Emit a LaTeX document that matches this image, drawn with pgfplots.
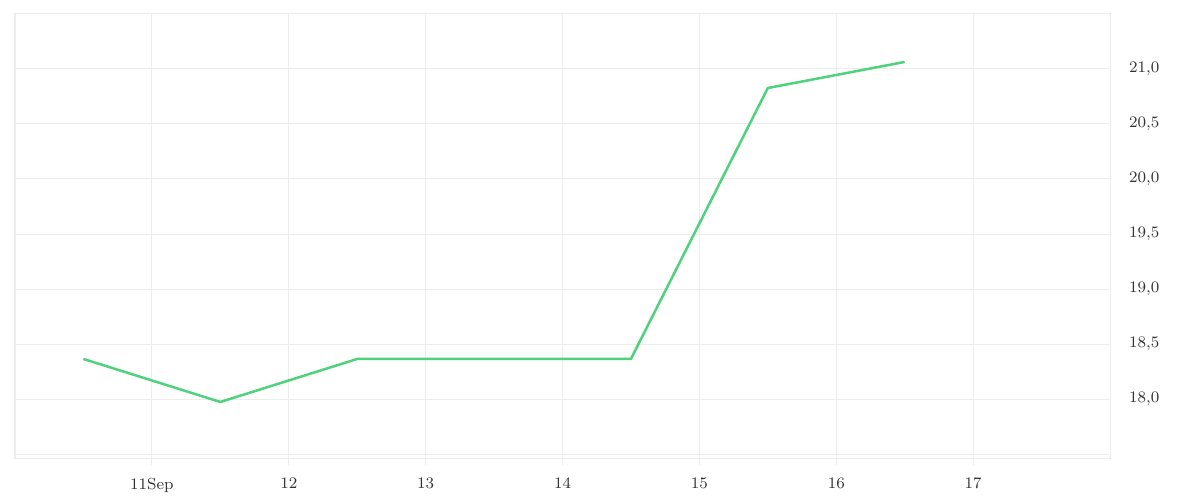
\documentclass[border=0pt]{standalone}
\usepackage{pgfplots}
\pgfplotsset{compat=1.18}
\definecolor{linegreen}{HTML}{4ED27C}
\definecolor{gridgray}{HTML}{EDEDED}
\definecolor{labelgray}{HTML}{333333}
\begin{document}
\begin{tikzpicture}
  \useasboundingbox (-7.5pt,-21pt) rectangle (592.5pt,229pt);
  \begin{axis}[
    at={(0pt,0pt)}, anchor=south west,
    scale only axis, width=547.5pt, height=222.5pt,
    xmin=10, xmax=18, ymin=17.4636, ymax=21.509,
    axis line style={gridgray, line width=0.5pt},
    xtick={11,12,...,17},
    xticklabels={11Sep,12,13,14,15,16,17},
    xtick pos=bottom,
    ytick={18,18.5,...,21},
    extra y ticks={17.5,21.5}, extra y tick labels={},
    extra y tick style={grid=major},
    grid=major,
    major grid style={gridgray, line width=0.5pt},
    tick align=outside,
    xtick style={gridgray, line width=0.5pt},
    major tick length=3.5pt,
    ytick style={draw=none},
    yticklabel pos=right,
    tick label style={font=\fontsize{8}{9.5}\selectfont, text=labelgray},
    yticklabel style={anchor=west, xshift=2.5pt,
      /pgf/number format/.cd, use comma, fixed, fixed zerofill, precision=1},
    xticklabel style={yshift=-3pt},
  ]
    \addplot[linegreen, line width=1.25pt, line join=round] coordinates {
      (10.5,18.364) (11.5,17.973) (12.5,18.364) (13.5,18.364)
      (14.5,18.364) (15.5,20.827) (16.5,21.064)
    };
  \end{axis}
\end{tikzpicture}
\end{document}
